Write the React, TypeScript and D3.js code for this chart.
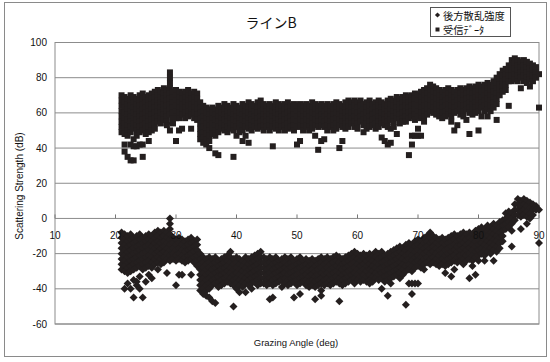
import React from "react";
import * as d3 from "d3";

const title = "ラインB";
const seriesNames = ["後方散乱強度", "受信ﾃﾞｰﾀ"];
const xTicks = [10, 20, 30, 40, 50, 60, 70, 80, 90];
const yTicks = [100, 80, 60, 40, 20, 0, -20, -40, -60];
const xLabel = "Grazing Angle (deg)";
const yLabel = "Scattering Strength (dB)";

const angles = [
  21, 21.5, 22, 22.5, 23, 23.5, 24, 24.5, 25, 25.5, 26, 26.5, 27, 27.5, 28, 28.5, 29, 29.5,
  30, 30.5, 31, 31.5, 32, 32.5, 33, 33.5, 34, 34.5, 35, 35.5, 36, 36.5, 37, 37.5, 38, 38.5,
  39, 39.5, 40, 40.5, 41, 41.5, 42, 42.5, 43, 43.5, 44, 44.5, 45, 45.5, 46, 46.5, 47, 47.5,
  48, 48.5, 49, 49.5, 50, 50.5, 51, 51.5, 52, 52.5, 53, 53.5, 54, 54.5, 55, 55.5, 56, 56.5,
  57, 57.5, 58, 58.5, 59, 59.5, 60, 60.5, 61, 61.5, 62, 62.5, 63, 63.5, 64, 64.5, 65, 65.5,
  66, 66.5, 67, 67.5, 68, 68.5, 69, 69.5, 70, 70.5, 71, 71.5, 72, 72.5, 73, 73.5, 74, 74.5,
  75, 75.5, 76, 76.5, 77, 77.5, 78, 78.5, 79, 79.5, 80, 80.5, 81, 81.5, 82, 82.5, 83, 83.5,
  84, 84.5, 85, 85.5, 86, 86.5, 87, 87.5, 88, 88.5, 89, 89.5, 90,
];

// 受信データ (squares), one list of values per angle
const receivedData = [
  [70, 67, 64, 61, 58, 55, 52, 49],
  [69, 66, 63, 60, 57, 54, 51, 48, 42, 38],
  [68, 65, 62, 59, 56, 53, 50, 47, 35],
  [70, 67, 64, 61, 58, 55, 52, 49, 42, 33],
  [69, 66, 63, 60, 57, 54, 51, 45, 41, 33],
  [68, 65, 62, 59, 56, 53, 50, 47, 41],
  [70, 67, 64, 61, 58, 55, 52, 49, 42],
  [71, 68, 65, 62, 59, 56, 53, 50, 35, 42],
  [69, 66, 63, 60, 57, 54, 51, 48],
  [70, 67, 64, 61, 58, 55, 52, 49, 44],
  [71, 68, 65, 62, 59, 56, 53, 50],
  [72, 69, 66, 63, 60, 57, 54, 51],
  [73, 70, 67, 64, 61, 58, 55],
  [72, 69, 66, 63, 60, 57, 54],
  [74, 71, 68, 65, 62, 59, 56],
  [73, 70, 67, 64, 61, 58, 55, 53],
  [83, 80, 77, 74, 71, 68, 65, 62, 59, 50],
  [72, 69, 66, 63, 60, 57, 54],
  [73, 70, 67, 64, 61, 58, 57, 44],
  [72, 69, 66, 63, 60, 57, 50],
  [71, 68, 65, 62, 59, 51],
  [72, 69, 66, 63, 60, 57],
  [73, 70, 67, 64, 61, 58],
  [71, 68, 65, 62, 59, 51],
  [72, 69, 66, 63, 60, 57],
  [71, 68, 65, 62, 59, 56],
  [66, 63, 60, 57, 54, 51, 48, 45],
  [64, 61, 58, 55, 52, 49, 46, 43],
  [63, 60, 57, 54, 51, 48, 45, 42],
  [62, 59, 56, 53, 50, 47, 44, 40],
  [63, 60, 57, 54, 51, 48],
  [62, 59, 56, 53, 50, 47, 37],
  [64, 61, 58, 55, 52, 49, 36],
  [63, 60, 57, 54, 51],
  [65, 62, 59, 56, 53, 50],
  [64, 61, 58, 55, 52, 49],
  [63, 60, 57, 54, 51],
  [65, 62, 59, 56, 53, 50, 35],
  [64, 61, 58, 55, 52, 47],
  [63, 60, 57, 54, 51, 49],
  [65, 62, 59, 56, 53, 50, 44],
  [64, 61, 58, 55, 52, 47],
  [66, 63, 60, 57, 54, 51, 43],
  [65, 62, 59, 56, 53, 50],
  [64, 61, 58, 55, 52],
  [66, 63, 60, 57, 54, 51],
  [67, 64, 61, 58, 55, 52],
  [65, 62, 59, 56, 53, 50],
  [64, 61, 58, 55, 52],
  [65, 62, 59, 56, 53, 50],
  [64, 61, 58, 55, 52, 41],
  [66, 63, 60, 57, 54, 51],
  [65, 62, 59, 56, 53, 50],
  [64, 61, 58, 55, 52],
  [65, 62, 59, 56, 53, 50],
  [66, 63, 60, 57, 54, 51],
  [64, 61, 58, 55, 52],
  [65, 62, 59, 56, 53, 50],
  [64, 61, 58, 55, 52, 42],
  [65, 62, 59, 56, 53, 44],
  [64, 61, 58, 55, 52, 50],
  [65, 62, 59, 56, 53],
  [64, 61, 58, 55, 52, 50],
  [66, 63, 60, 57, 54, 51],
  [65, 62, 59, 56, 53, 47],
  [64, 61, 58, 55, 52, 39],
  [65, 62, 59, 56, 53, 44],
  [64, 61, 58, 55, 52, 45],
  [65, 62, 59, 56, 53, 50],
  [64, 61, 58, 55, 52],
  [65, 62, 59, 56, 53, 50],
  [66, 63, 60, 57, 54, 51],
  [65, 62, 59, 56, 53, 40],
  [64, 61, 58, 55, 52, 44],
  [66, 63, 60, 57, 54, 51],
  [67, 64, 61, 58, 55, 52],
  [66, 63, 60, 57, 54],
  [67, 64, 61, 58, 55, 52],
  [66, 63, 60, 57, 54, 51],
  [67, 64, 61, 58, 55],
  [65, 62, 59, 56, 53, 49],
  [66, 63, 60, 57, 54, 51],
  [67, 64, 61, 58, 55, 52],
  [65, 62, 59, 56, 53],
  [66, 63, 60, 57, 54, 51],
  [67, 64, 61, 58, 55, 52],
  [66, 63, 60, 57, 54, 46],
  [65, 62, 59, 56, 53, 44],
  [67, 64, 61, 58, 55, 52, 42],
  [68, 65, 62, 59, 56, 51, 43],
  [67, 64, 61, 58, 55, 52],
  [69, 66, 63, 60, 57, 48],
  [68, 65, 62, 59, 56, 54],
  [69, 66, 63, 60, 57, 55],
  [70, 67, 64, 61, 58, 55],
  [69, 66, 63, 60, 57, 36],
  [70, 67, 64, 61, 58, 47, 42],
  [71, 68, 65, 62, 59, 56, 47],
  [70, 67, 64, 61, 58, 51, 47],
  [72, 69, 66, 63, 60, 57, 47],
  [73, 70, 67, 64, 61, 58, 55],
  [74, 71, 68, 65, 62, 59],
  [76, 73, 70, 67, 64, 61],
  [75, 72, 69, 66, 63, 60],
  [74, 71, 68, 65, 62, 59],
  [73, 70, 67, 64, 61, 58],
  [72, 69, 66, 63, 60, 57],
  [73, 70, 67, 64, 61, 58],
  [74, 71, 68, 65, 62, 59],
  [73, 70, 67, 64, 61, 58, 55],
  [72, 69, 66, 63, 60, 50],
  [73, 70, 67, 64, 61, 53],
  [74, 71, 68, 65, 62, 59],
  [73, 70, 67, 64, 61, 58],
  [74, 71, 68, 65, 62, 56],
  [75, 72, 69, 66, 63, 60, 48],
  [74, 71, 68, 65, 62, 59],
  [75, 72, 69, 66, 63, 60],
  [76, 73, 70, 67, 64, 61, 50],
  [75, 72, 69, 66, 63, 58],
  [76, 73, 70, 67, 64, 61],
  [77, 74, 71, 68, 65, 62, 58],
  [76, 73, 70, 67, 64, 61],
  [78, 75, 72, 69, 66, 63],
  [80, 77, 74, 71, 68, 65, 56],
  [82, 79, 76, 73, 70],
  [84, 81, 78, 75, 72],
  [85, 82, 79, 76, 73],
  [87, 84, 81, 78, 64],
  [90, 87, 84, 81, 78],
  [91, 88, 85, 82, 79],
  [90, 87, 84, 81, 78],
  [89, 86, 83, 80, 74],
  [90, 87, 84, 81, 78],
  [89, 86, 83, 80, 77],
  [88, 85, 82, 79, 75],
  [87, 84, 81, 78],
  [86, 83, 80],
  [82, 63],
];

// 後方散乱強度 (diamonds), one list of values per angle
const backscatterData = [
  [-8, -11, -14, -17, -20, -23, -26, -29],
  [-9, -12, -15, -18, -21, -24, -27, -30, -40],
  [-10, -13, -16, -19, -22, -25, -28, -31, -37],
  [-9, -12, -15, -18, -21, -24, -27, -30, -40],
  [-11, -14, -17, -20, -23, -26, -29, -35, -45],
  [-10, -13, -16, -19, -22, -25, -28, -38, -36],
  [-9, -12, -15, -18, -21, -24, -27, -33, -40],
  [-11, -14, -17, -20, -23, -26, -29, -45],
  [-10, -13, -16, -19, -22, -25, -28, -36],
  [-9, -12, -15, -18, -21, -24, -27, -32],
  [-10, -13, -16, -19, -22, -25, -28, -34],
  [-8, -11, -14, -17, -20, -23, -26],
  [-7, -10, -13, -16, -19, -22, -25, -29],
  [-8, -11, -14, -17, -20, -23, -26],
  [-7, -10, -13, -16, -19, -22, -25],
  [-8, -11, -14, -17, -20, -23, -31],
  [0, -3, -6, -9, -12, -15, -18, -21, -24],
  [-11, -14, -17, -20, -23],
  [-12, -15, -18, -21, -24, -38],
  [-11, -14, -17, -20, -23, -32],
  [-12, -15, -18, -21, -24, -32],
  [-13, -16, -19, -22, -25],
  [-12, -15, -18, -21, -24],
  [-11, -14, -17, -20, -23, -32],
  [-13, -16, -19, -22, -25],
  [-12, -15, -18, -21, -24, -27],
  [-20, -23, -26, -29, -32, -35, -38, -41],
  [-22, -25, -28, -31, -34, -37, -40, -43],
  [-23, -26, -29, -32, -35, -38, -41, -44],
  [-22, -25, -28, -31, -34, -37, -40, -45],
  [-23, -26, -29, -32, -35, -38, -47],
  [-22, -25, -28, -31, -34, -37, -48],
  [-24, -27, -30, -33, -36, -39],
  [-23, -26, -29, -32, -35, -38],
  [-22, -25, -28, -31, -34, -37],
  [-21, -24, -27, -30, -33, -36],
  [-19, -22, -25, -28, -31, -34, -37],
  [-23, -26, -29, -32, -35, -38, -50],
  [-22, -25, -28, -31, -34, -37, -40],
  [-23, -26, -29, -32, -35, -38, -42],
  [-24, -27, -30, -33, -36, -39],
  [-22, -25, -28, -31, -34, -37, -42],
  [-23, -26, -29, -32, -35, -38],
  [-22, -25, -28, -31, -34, -37, -40],
  [-21, -24, -27, -30, -33, -36],
  [-20, -23, -26, -29, -32, -35, -38],
  [-19, -22, -25, -28, -31, -34, -37],
  [-22, -25, -28, -31, -34, -37],
  [-23, -26, -29, -32, -35, -38],
  [-22, -25, -28, -31, -34, -37, -46],
  [-23, -26, -29, -32, -35, -38, -45],
  [-22, -25, -28, -31, -34, -37],
  [-24, -27, -30, -33, -36],
  [-23, -26, -29, -32, -35, -39],
  [-22, -25, -28, -31, -34, -37],
  [-23, -26, -29, -32, -35, -38],
  [-22, -25, -28, -31, -34, -37],
  [-24, -27, -30, -33, -36, -45],
  [-23, -26, -29, -32, -35, -38],
  [-22, -25, -28, -31, -34, -37, -43],
  [-24, -27, -30, -33, -36],
  [-23, -26, -29, -32, -35, -38],
  [-24, -27, -30, -33, -36, -39],
  [-23, -26, -29, -32, -35, -38],
  [-24, -27, -30, -33, -36, -39, -46],
  [-23, -26, -29, -32, -35, -38],
  [-22, -25, -28, -31, -34, -37, -41, -44],
  [-23, -26, -29, -32, -35, -38],
  [-22, -25, -28, -31, -34, -37],
  [-23, -26, -29, -32, -35, -38],
  [-22, -25, -28, -31, -34, -37],
  [-21, -24, -27, -30, -33, -36],
  [-22, -25, -28, -31, -34, -37, -47],
  [-23, -26, -29, -32, -35, -38],
  [-22, -25, -28, -31, -34, -37],
  [-21, -24, -27, -30, -33, -36],
  [-20, -23, -26, -29, -32, -35],
  [-19, -22, -25, -28, -31, -34, -37],
  [-20, -23, -26, -29, -32, -35],
  [-21, -24, -27, -30, -33, -36],
  [-20, -23, -26, -29, -32, -35],
  [-21, -24, -27, -30, -33, -36],
  [-20, -23, -26, -29, -32, -35, -37],
  [-21, -24, -27, -30, -33, -36],
  [-19, -22, -25, -28, -31, -34],
  [-20, -23, -26, -29, -32, -35],
  [-19, -22, -25, -28, -31, -34, -40],
  [-21, -24, -27, -30, -33, -36],
  [-20, -23, -26, -29, -32, -35, -44],
  [-19, -22, -25, -28, -31, -34, -37],
  [-18, -21, -24, -27, -30, -33],
  [-17, -20, -23, -26, -29, -32],
  [-16, -19, -22, -25, -28, -31, -34],
  [-17, -20, -23, -26, -29, -32],
  [-15, -18, -21, -24, -27, -30, -49],
  [-14, -17, -20, -23, -26, -29, -37],
  [-15, -18, -21, -24, -27, -30, -37, -43],
  [-13, -16, -19, -22, -25, -28, -37],
  [-12, -15, -18, -21, -24, -27, -37],
  [-13, -16, -19, -22, -25, -28],
  [-11, -14, -17, -20, -23, -26, -29],
  [-10, -13, -16, -19, -22, -25],
  [-8, -11, -14, -17, -20, -23, -26],
  [-10, -13, -16, -19, -22, -25],
  [-11, -14, -17, -20, -23, -26],
  [-12, -15, -18, -21, -24, -27],
  [-11, -14, -17, -20, -23, -26],
  [-12, -15, -18, -21, -24, -27, -31],
  [-11, -14, -17, -20, -23, -26],
  [-10, -13, -16, -19, -22, -25, -33],
  [-9, -12, -15, -18, -21, -24, -29],
  [-10, -13, -16, -19, -22, -25],
  [-9, -12, -15, -18, -21, -24],
  [-8, -11, -14, -17, -20, -23, -26],
  [-9, -12, -15, -18, -21, -24],
  [-8, -11, -14, -17, -20, -23, -34],
  [-9, -12, -15, -18, -21, -24, -27],
  [-7, -10, -13, -16, -19, -22, -32],
  [-6, -9, -12, -15, -18, -21, -24],
  [-5, -8, -11, -14, -17, -20],
  [-6, -9, -12, -15, -18, -21, -24],
  [-4, -7, -10, -13, -16, -19],
  [-5, -8, -11, -14, -17, -20],
  [-3, -6, -9, -12, -15, -18, -24],
  [-4, -7, -10, -13, -16, -19],
  [-2, -5, -8, -11, -14, -17],
  [-1, -4, -7, -10, -13],
  [3, 0, -3, -6],
  [4, 1, -2, -5],
  [3, 0, -3, -7, -16],
  [8, 5, 2, -1],
  [11, 8, 5, 2],
  [10, 7, 4, 1, -6],
  [11, 8, 5, 2],
  [10, 7, 4, 1, -3],
  [9, 6, 3, 0],
  [8, 5, 2],
  [7, 5],
  [5, -14],
];

const W = 550;
const H = 362;
const plot = { left: 55, right: 539, top: 42.5, bottom: 324 };
const markColor = "#241f1f";
const gridColor = "#8c8c8c";
const numFont = "'Liberation Sans', Arial, sans-serif";
const jpFont = "'Noto Sans CJK JP', 'Noto Sans', sans-serif";

const diamondPath = (r: number) => `M0,${-r}L${r},0L0,${r}L${-r},0Z`;

export default function App() {
  const x = d3.scaleLinear().domain([10, 90]).range([plot.left, plot.right]);
  const y = d3.scaleLinear().domain([-60, 100]).range([plot.bottom, plot.top]);

  const recvPts: [number, number][] = [];
  receivedData.forEach((vals, i) => vals.forEach((v) => recvPts.push([angles[i], v])));
  const backPts: [number, number][] = [];
  backscatterData.forEach((vals, i) => vals.forEach((v) => backPts.push([angles[i], v])));

  const sq = 6;
  const dr = 4;

  return (
    <svg
      width={W}
      height={H}
      style={{ position: "absolute", left: 0, top: 0, background: "#fff" }}
    >
      <rect x={4.5} y={2.5} width={542} height={354} fill="#fff" stroke="#8a8a8a" strokeWidth={1} />
      {yTicks.map((t) => (
        <line
          key={"g" + t}
          x1={plot.left}
          x2={plot.right}
          y1={y(t)}
          y2={y(t)}
          stroke={gridColor}
          strokeWidth={1}
        />
      ))}
      <rect
        x={plot.left}
        y={plot.top}
        width={plot.right - plot.left}
        height={plot.bottom - plot.top}
        fill="none"
        stroke={gridColor}
        strokeWidth={1}
      />
      {xTicks.map((t) => (
        <line key={"xt" + t} x1={x(t)} x2={x(t)} y1={y(0) - 4} y2={y(0)} stroke="#777" strokeWidth={1} />
      ))}
      <g fill={markColor}>
        {recvPts.map((p, i) => (
          <rect key={"r" + i} x={x(p[0]) - sq / 2} y={y(p[1]) - sq / 2} width={sq} height={sq} />
        ))}
      </g>
      <g fill={markColor}>
        {backPts.map((p, i) => (
          <path key={"b" + i} d={diamondPath(dr)} transform={`translate(${x(p[0])},${y(p[1])})`} />
        ))}
      </g>
      {yTicks.map((t) => (
        <text
          key={"yl" + t}
          x={47}
          y={y(t)}
          textAnchor="end"
          dominantBaseline="central"
          fontFamily={numFont}
          fontSize={10}
          fill="#111"
        >
          {t}
        </text>
      ))}
      {xTicks.map((t) => (
        <text
          key={"xl" + t}
          x={x(t)}
          y={y(0) + 17}
          textAnchor="middle"
          dominantBaseline="central"
          fontFamily={numFont}
          fontSize={10}
          fill="#111"
        >
          {t}
        </text>
      ))}
      <text x={271} y={22} textAnchor="middle" dominantBaseline="central" fontFamily={jpFont} fontSize={14} fill="#111">
        {title}
      </text>
      <text
        x={296}
        y={342}
        textAnchor="middle"
        dominantBaseline="central"
        fontFamily={numFont}
        fontSize={9.5}
        fill="#111"
      >
        {xLabel}
      </text>
      <text
        transform={`translate(19,186) rotate(-90)`}
        textAnchor="middle"
        dominantBaseline="central"
        fontFamily={numFont}
        fontSize={10}
        fill="#111"
      >
        {yLabel}
      </text>
      <rect x={430.5} y={7.5} width={80} height={29} fill="#fff" stroke="#555" strokeWidth={1} />
      <path d={diamondPath(2.6)} transform="translate(437.5,15)" fill={markColor} />
      <text x={443} y={15} dominantBaseline="central" fontFamily={jpFont} fontSize={10.3} fill="#111">
        {seriesNames[0]}
      </text>
      <rect x={435.5} y={27.5} width={4} height={4} fill={markColor} />
      <text x={443} y={29.5} dominantBaseline="central" fontFamily={jpFont} fontSize={10.3} fill="#111">
        {seriesNames[1]}
      </text>
    </svg>
  );
}
